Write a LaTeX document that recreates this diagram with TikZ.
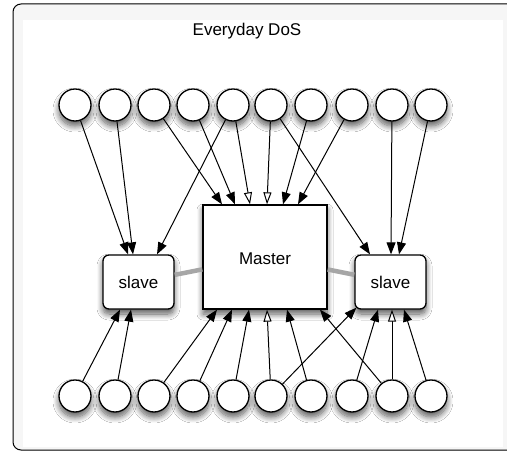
\documentclass[tikz,border=0pt]{standalone}
\usepackage{fontspec}
\setmainfont{Liberation Sans}
\usetikzlibrary{arrows.meta,shadows.blur}
\begin{document}
\begin{tikzpicture}[x=1pt,y=-1pt,
  every node/.style={font=\fontsize{17}{20}\selectfont},
  sh/.style={blur shadow={shadow xshift=0pt,shadow yshift=-5pt,shadow blur steps=10,shadow blur radius=6pt,shadow opacity=65}},
  peer/.style={circle,draw=black,line width=1.3pt,fill=white,minimum size=32pt,inner sep=0pt,sh},
  slavebox/.style={rectangle,rounded corners=6pt,draw=black,line width=1.3pt,fill=white,minimum width=71pt,minimum height=54pt,inner sep=0pt,sh},
  masterbox/.style={rectangle,draw=black,line width=1.3pt,fill=white,minimum width=124pt,minimum height=104pt,inner sep=0pt,sh},
  arr/.style={line width=1pt,-{Triangle[length=12pt,width=9pt]}},
  oarr/.style={line width=1pt,-{Triangle[length=12pt,width=8pt,fill=white]}},
  link/.style={line width=4.5pt,draw=gray!70}]
\useasboundingbox (0,0) rectangle (507,452);
% frame
\fill[white] (0,0) rectangle (507,452);
\draw[line width=1pt,fill=gray!7,rounded corners=8pt] (13,4) rectangle (540,450);
\fill[white] (23,20) rectangle (503,447);
\node (title) at (247,31) {Everyday DoS};
% boxes
\node[masterbox] (master) at (265,257) {};
\node at (265,259) {Master};
\node[slavebox] (slaveL) at (138.5,282) {slave};
\node[slavebox] (slaveR) at (390.5,282) {slave};
% peers
\foreach \i/\x in {1/75,2/115,3/154,4/193,5/233,6/271,7/311,8/352,9/392,10/431}{
  \node[peer] (T\i) at (\x,105) {};
  \node[peer] (B\i) at (\x,396) {};
}
% links
\draw[link] (slaveL) -- (master);
\draw[link] (master) -- (slaveR);
% top arrows
\draw[arr] (T1) -- ([xshift=-10.5pt]slaveL.north);
\draw[arr] (T2) -- ([xshift=-5.5pt]slaveL.north);
\draw[arr] (T5) -- ([xshift=18.5pt]slaveL.north);
\draw[arr] (T3) -- ([xshift=-43pt]master.north);
\draw[arr] (T4) -- ([xshift=-30pt]master.north);
\draw[oarr] (T5) -- ([xshift=-15pt]master.north);
\draw[oarr] (T6) -- ([xshift=2pt]master.north);
\draw[arr] (T7) -- ([xshift=18pt]master.north);
\draw[arr] (T8) -- ([xshift=33pt]master.north);
\draw[arr] (T6) -- ([xshift=-20.5pt]slaveR.north);
\draw[arr] (T9) -- ([xshift=0.5pt]slaveR.north);
\draw[arr] (T10) -- ([xshift=8.5pt]slaveR.north);
% bottom arrows
\draw[arr] (B1) -- ([xshift=-18.5pt]slaveL.south);
\draw[arr] (B2) -- ([xshift=-7.5pt]slaveL.south);
\draw[arr] (B3) -- ([xshift=-48pt]master.south);
\draw[arr] (B4) -- ([xshift=-33pt]master.south);
\draw[arr] (B5) -- ([xshift=-16pt]master.south);
\draw[oarr] (B6) -- ([xshift=2pt]master.south);
\draw[arr] (B7) -- ([xshift=22pt]master.south);
\draw[arr] (B9) -- ([xshift=55pt]master.south);
\draw[arr] (B6) -- ([xshift=2pt,yshift=2pt]slaveR.south west);
\draw[arr] (B8) -- ([xshift=-12.5pt]slaveR.south);
\draw[oarr] (B9) -- ([xshift=1.5pt]slaveR.south);
\draw[arr] (B10) -- ([xshift=13.5pt]slaveR.south);
\end{tikzpicture}
\end{document}
